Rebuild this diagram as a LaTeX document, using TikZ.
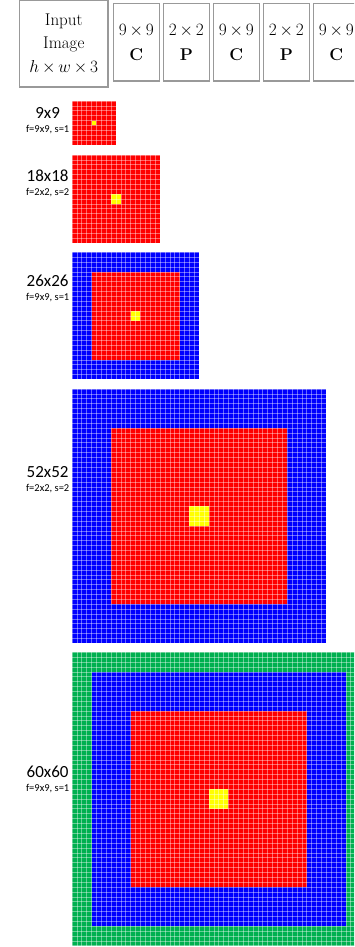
\documentclass[tikz,border=0pt]{standalone}
\usepackage{fontspec}
\newfontfamily\calfont{Carlito}
\definecolor{cgreen}{RGB}{0,176,80}
\definecolor{cred}{RGB}{255,0,0}
\definecolor{cblue}{RGB}{0,0,255}
\definecolor{cyellow}{RGB}{255,255,0}
\tikzset{
  layerbox/.style={draw=gray!80, line width=1.2pt, align=center, inner sep=0pt,
    minimum width=46pt, minimum height=77.7pt, font=\fontsize{17}{25}\selectfont},
  inputbox/.style={layerbox, minimum width=88.5pt, minimum height=86.5pt,
    font=\fontsize{17}{23.3}\selectfont},
  bigtxt/.style={inner sep=0pt, font=\calfont\fontsize{17}{20}\selectfont},
  smalltxt/.style={inner sep=0pt, font=\calfont\fontsize{10.5}{12}\selectfont},
  cellline/.style={white, opacity=0.4, line width=0.6pt}
}
\newcommand{\bytimes}{\,{\times}\,}
\begin{document}
\begin{tikzpicture}[x=1pt, y=-1pt]
% Parameters
\def\cellsz{4.89}

\useasboundingbox (0,0) rectangle (354,947);
\clip (0,0) rectangle (354,947);

% Layer boxes along the top
\node[inputbox] (input) at (63.8,43.8) {Input\\Image\\$h\bytimes w\bytimes 3$};
\foreach \sz/\ty [count=\i from 0] in {9/C,2/P,9/C,2/P,9/C} {
    \node[layerbox] (layer\i) at (136.3+50*\i,42.2) {$\sz\bytimes\sz$\\\textbf{\ty}};
}

% Receptive field grids (margins of green, blue, red and yellow; -1 = none)
\foreach \gtop/\n/\gmar/\bmar/\rmar/\ymar in {101/9/-1/-1/0/4, 155/18/-1/-1/0/8,
    252.3/26/-1/0/4/12, 389/52/-1/0/8/24, 652.3/60/0/4/12/28} {
    \begin{scope}[shift={(72,\gtop)}, x=\cellsz pt, y=-\cellsz pt]
        \ifnum\gmar>-1\relax
            \fill[cgreen] (\gmar,\gmar) rectangle (\n-\gmar,\n-\gmar);
        \fi
        \ifnum\bmar>-1\relax
            \fill[cblue] (\bmar,\bmar) rectangle (\n-\bmar,\n-\bmar);
        \fi
        \fill[cred] (\rmar,\rmar) rectangle (\n-\rmar,\n-\rmar);
        \fill[cyellow] (\ymar,\ymar) rectangle (\n-\ymar,\n-\ymar);

        % Cell lines
        \foreach \k in {0,...,\n} {
            \draw[cellline] (\k,0) -- (\k,\n);
            \draw[cellline] (0,\k) -- (\n,\k);
        }
    \end{scope}
}

% Size labels
\foreach \nm/\fs/\yb [count=\i] in {9x9/{f=9x9, s=1}/132.7, 18x18/{f=2x2, s=2}/195,
    26x26/{f=9x9, s=1}/300, 52x52/{f=2x2, s=2}/491, 60x60/{f=9x9, s=1}/791} {
    \node[smalltxt, anchor=base east] (fs\i) at (69.5,\yb) {\fs};
    \node[bigtxt, anchor=base] (sz\i) at ([yshift=13.8pt]fs\i.base) {\nm};
}
\end{tikzpicture}
\end{document}
